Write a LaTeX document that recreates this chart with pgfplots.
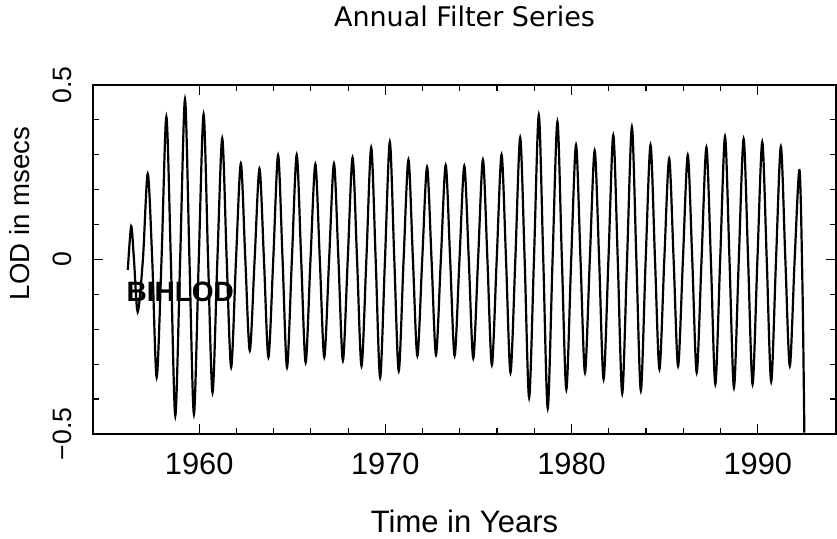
\documentclass[border=0pt]{standalone}
\usepackage{fontspec}
\setmainfont{Liberation Sans}
\newfontfamily\titlefont{DejaVu Sans}
\usepackage{pgfplots}
\pgfplotsset{compat=1.18}

% annual filter series: peak / zero / trough per year
\pgfplotstableread{
x y
1956.17 -0.030
1956.35 0.095
1956.50 0
1956.70 -0.150
1956.98 0
1957.24 0.246
1957.48 0
1957.72 -0.338
1957.98 0
1958.24 0.409
1958.48 0
1958.72 -0.448
1958.98 0
1959.24 0.459
1959.48 0
1959.72 -0.443
1959.98 0
1960.24 0.416
1960.48 0
1960.72 -0.381
1960.98 0
1961.24 0.347
1961.48 0
1961.72 -0.309
1961.98 0
1962.24 0.275
1962.48 0
1962.72 -0.261
1962.98 0
1963.24 0.260
1963.48 0
1963.72 -0.280
1963.98 0
1964.24 0.299
1964.48 0
1964.72 -0.309
1964.98 0
1965.24 0.300
1965.48 0
1965.72 -0.295
1965.98 0
1966.24 0.273
1966.48 0
1966.72 -0.280
1966.98 0
1967.24 0.275
1967.48 0
1967.72 -0.290
1967.98 0
1968.24 0.292
1968.48 0
1968.72 -0.305
1968.98 0
1969.24 0.321
1969.48 0
1969.72 -0.338
1969.98 0
1970.24 0.337
1970.48 0
1970.72 -0.319
1970.98 0
1971.24 0.286
1971.48 0
1971.72 -0.276
1971.98 0
1972.24 0.265
1972.48 0
1972.72 -0.273
1972.98 0
1973.24 0.270
1973.48 0
1973.72 -0.276
1973.98 0
1974.24 0.268
1974.48 0
1974.72 -0.283
1974.98 0
1975.24 0.286
1975.48 0
1975.72 -0.302
1975.98 0
1976.24 0.300
1976.48 0
1976.72 -0.324
1976.98 0
1977.24 0.349
1977.48 0
1977.72 -0.396
1977.98 0
1978.24 0.414
1978.48 0
1978.72 -0.426
1978.98 0
1979.24 0.395
1979.48 0
1979.72 -0.372
1979.98 0
1980.24 0.328
1980.48 0
1980.72 -0.324
1980.98 0
1981.24 0.312
1981.48 0
1981.72 -0.343
1981.98 0
1982.24 0.356
1982.48 0
1982.72 -0.384
1982.98 0
1983.24 0.380
1983.48 0
1983.72 -0.375
1983.98 0
1984.24 0.328
1984.48 0
1984.72 -0.314
1984.98 0
1985.24 0.289
1985.48 0
1985.72 -0.305
1985.98 0
1986.24 0.299
1986.48 0
1986.72 -0.324
1986.98 0
1987.24 0.321
1987.48 0
1987.72 -0.357
1987.98 0
1988.24 0.352
1988.48 0
1988.72 -0.367
1988.98 0
1989.24 0.345
1989.48 0
1989.72 -0.357
1989.98 0
1990.24 0.337
1990.48 0
1990.72 -0.350
1990.98 0
1991.24 0.323
1991.48 0
1991.72 -0.305
1991.98 0
1992.24 0.256
1992.40 -0.080
1992.50 -0.496
}\lodtable

\begin{document}
\begin{tikzpicture}
\begin{axis}[
  width=371.5pt, height=174.5pt, scale only axis,
  xmin=1954.3, xmax=1994.2, ymin=-0.5, ymax=0.5,
  xtick={1960,1970,1980,1990}, xticklabels={1960,1970,1980,1990},
  ytick={-0.5,0,0.5}, yticklabels={−0.5,0,0.5},
  minor x tick num=4, minor y tick num=4,
  tick pos=both, tick align=inside,
  major tick length=5pt, minor tick length=3pt,
  every tick/.style={black, line width=0.6pt},
  axis line style={line width=0.9pt},
  xticklabel style={font=\fontsize{15.4}{18}\selectfont, inner sep=0pt, anchor=north},
  xticklabel shift=9.5pt,
  yticklabel style={font=\fontsize{13.3}{16}\selectfont, inner sep=0pt, rotate=90, anchor=south},
  yticklabel shift=10.5pt,
  title={Annual Filter Series},
  every axis title/.style={font=\titlefont\fontsize{13.5}{16}\selectfont, at={(rel axis cs:0.5,1)}, anchor=base, yshift=29pt, inner sep=0pt},
  xlabel={Time in Years},
  xlabel style={font=\fontsize{15.5}{18}\selectfont, at={(rel axis cs:0.5,0)}, anchor=base, yshift=-49.5pt, inner sep=0pt},
]
\addplot[black, line width=1.1pt, smooth] table[x=x, y=y] {\lodtable};
\node[anchor=west, inner sep=0pt, font=\bfseries\fontsize{14}{16}\selectfont] at (axis cs:1956.08,-0.092) {BIHLOD};
\end{axis}
\node[rotate=90, anchor=base, inner sep=0pt, font=\fontsize{13.8}{16}\selectfont]
  at ([shift={(-32pt,110.3pt)}]current axis.south west) {LOD in msecs};
\pgfresetboundingbox
\path ([shift={(-46.5pt,-52.5pt)}]current axis.south west) rectangle ([shift={(0.5pt,42.5pt)}]current axis.north east);
\end{tikzpicture}
\end{document}
